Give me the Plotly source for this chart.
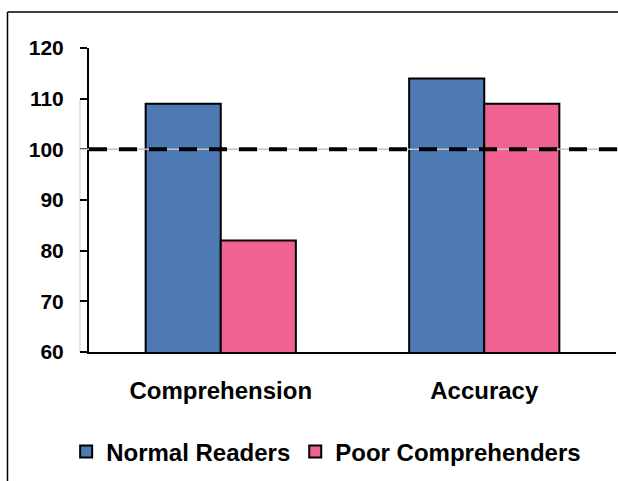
import plotly.graph_objects as go

categories = ["Comprehension", "Accuracy"]
normal_readers = [109, 114]
poor_comprehenders = [82, 109]
y_ticks = [60, 70, 80, 90, 100, 110, 120]
baseline = 100

FONT = "Liberation Sans, Arial, sans-serif"

fig = go.Figure()
fig.add_trace(go.Bar(
    x=categories, y=normal_readers, name="<b>Normal Readers</b>",
    marker=dict(color="#4e7ab3", line=dict(color="black", width=2)),
))
fig.add_trace(go.Bar(
    x=categories, y=poor_comprehenders, name="<b>Poor Comprehenders</b>",
    marker=dict(color="#f06292", line=dict(color="black", width=2)),
))

W, H = 618, 481
L, R, T, B = 89, 2, 48, 129
pw = W - L - R
ph = H - T - B

def px_x(px):
    return (px - L) / pw

def px_y(py):
    return (H - B - py) / ph

shapes = [
    # outer frame (left and top edges; right/bottom lie outside the picture)
    dict(type="line", xref="paper", yref="paper",
         x0=px_x(7.5), x1=px_x(7.5), y0=px_y(H + 5), y1=px_y(12),
         line=dict(color="black", width=1.5), layer="below"),
    dict(type="line", xref="paper", yref="paper",
         x0=px_x(7.5), x1=px_x(W + 5), y0=px_y(12), y1=px_y(12),
         line=dict(color="black", width=1.5), layer="below"),
    # faint grey reference line
    dict(type="line", xref="paper", yref="y",
         x0=px_x(80), x1=px_x(W + 5), y0=baseline, y1=baseline,
         line=dict(color="#c4c4c4", width=1.5), layer="above"),
    # faint vertical line left of axis
    dict(type="line", xref="paper", yref="y",
         x0=px_x(80), x1=px_x(80), y0=60, y1=110,
         line=dict(color="#e0e0e0", width=1.5), layer="below"),
    # dashed baseline
    dict(type="line", xref="paper", yref="y",
         x0=0, x1=px_x(W + 5), y0=baseline, y1=baseline,
         line=dict(color="black", width=4, dash="18px,12px"), layer="above"),
]

fig.update_layout(
    width=W, height=H,
    margin=dict(l=L, r=R, t=T, b=B, pad=0),
    paper_bgcolor="white", plot_bgcolor="white",
    barmode="group", bargap=0.43, bargroupgap=0,
    font=dict(family=FONT, size=21, color="black"),
    showlegend=True,
    legend=dict(orientation="h", x=0.45, xanchor="center", y=-0.329, yanchor="middle",
                font=dict(family=FONT, size=24, color="black"),
                itemwidth=30, traceorder="normal", itemclick=False,
                bgcolor="rgba(0,0,0,0)"),
    shapes=shapes,
    xaxis=dict(showline=True, linecolor="black", linewidth=2, ticks="",
               range=[-0.5, 1.5],
               tickfont=dict(family=FONT, size=24, color="black"),
               tickvals=categories, ticktext=[f"<b>{c}</b>" for c in categories],
               ticklabelstandoff=16, showgrid=False, zeroline=False, fixedrange=True),
    yaxis=dict(range=[60, 120], tickvals=y_ticks, ticktext=[f"<b>{v}</b>" for v in y_ticks],
               showline=True, linecolor="black", linewidth=2,
               ticks="outside", ticklen=7, tickwidth=2, tickcolor="black",
               tickfont=dict(family=FONT, size=21, color="black"),
               ticklabelstandoff=12,
               showgrid=False, zeroline=False, fixedrange=True),
)

fig.write_html("out.html", config={"displayModeBar": False},
               post_script="document.body.style.margin='0';document.body.style.overflow='hidden';")
